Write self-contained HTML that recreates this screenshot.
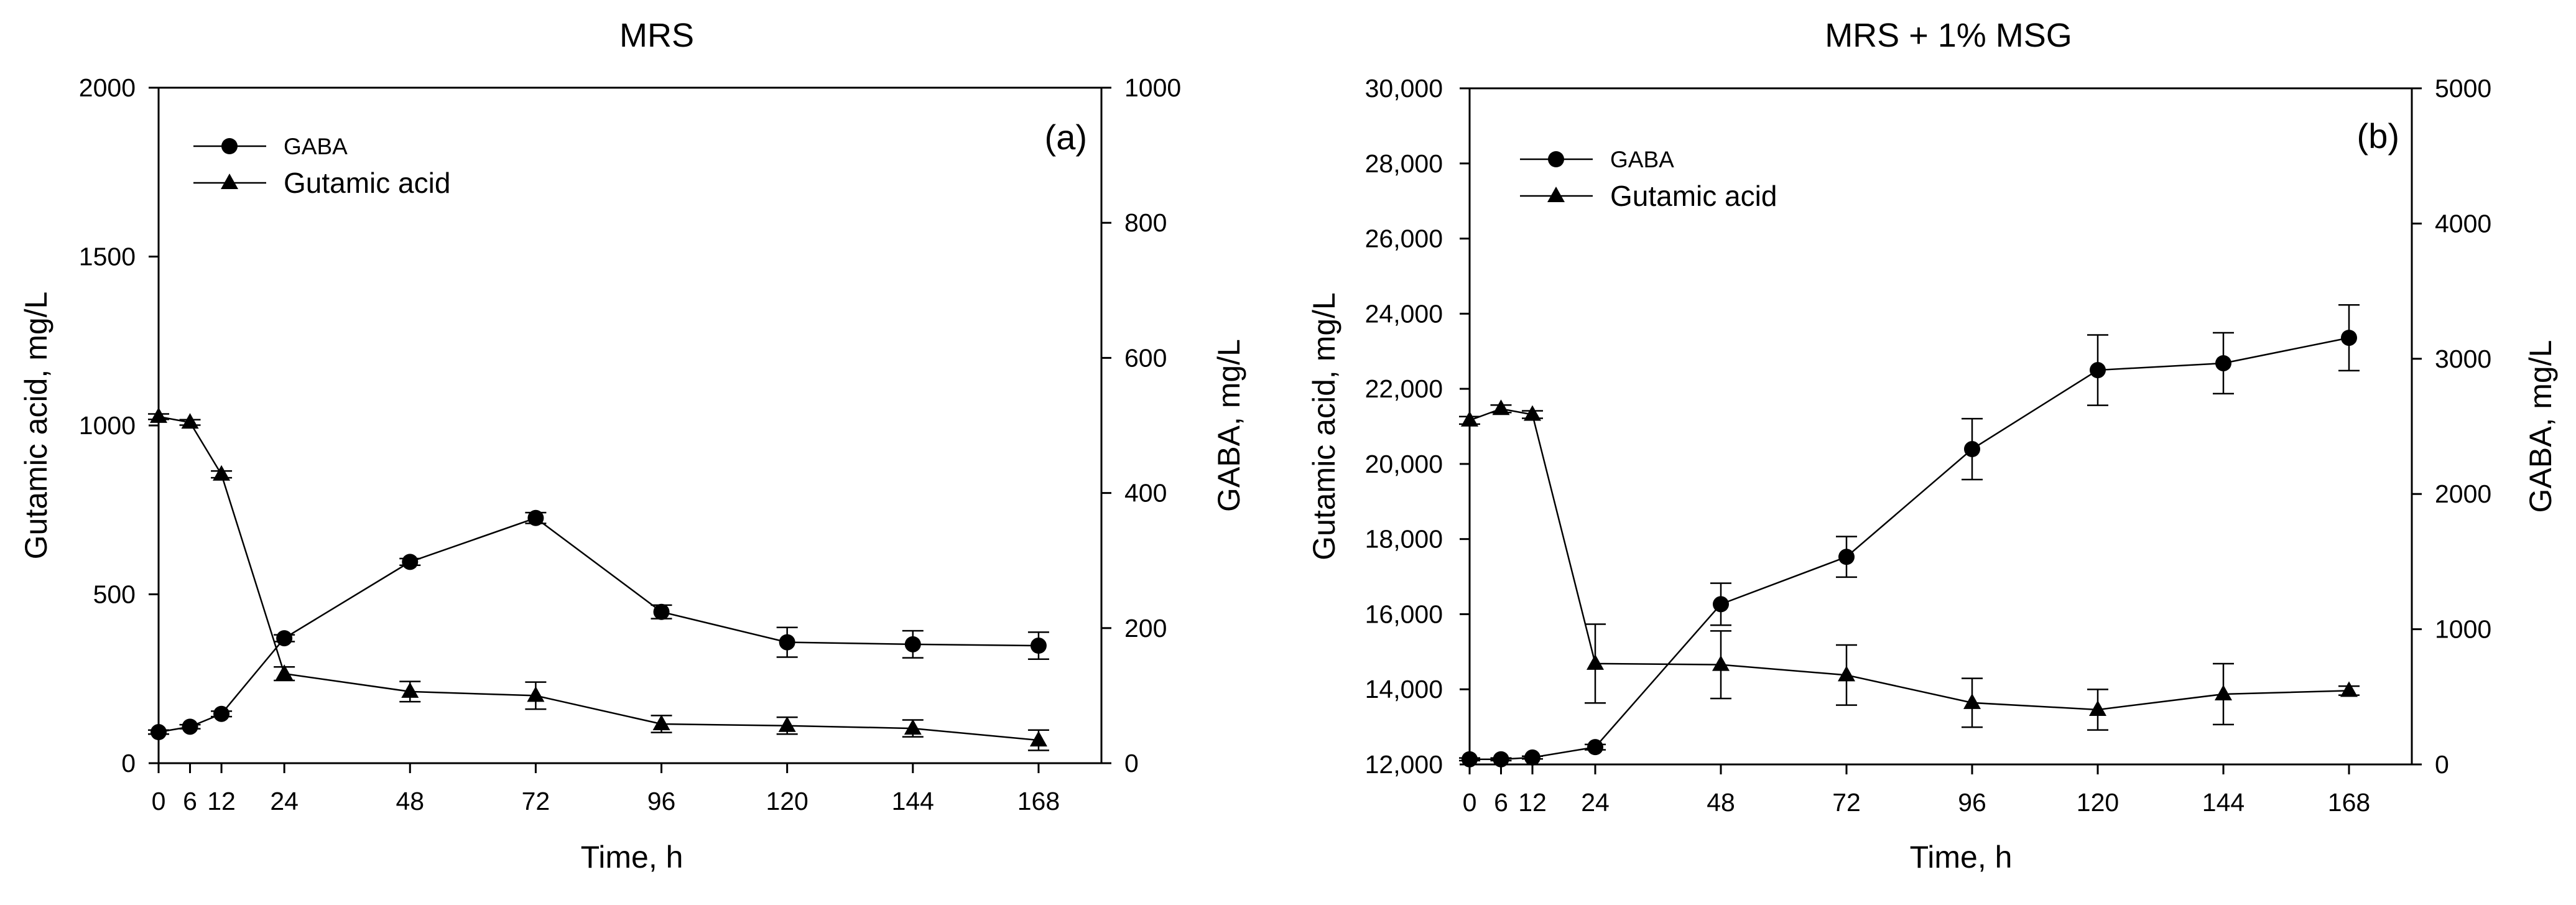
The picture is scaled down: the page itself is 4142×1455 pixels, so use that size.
<!DOCTYPE html>
<html><head><meta charset="utf-8">
<style>
html,body{margin:0;padding:0;background:#fff;}
svg{display:block;font-family:"Liberation Sans",Arial,sans-serif;}
</style></head>
<body>
<svg id="fig" width="4142" height="1455" viewBox="0 0 4142 1455" xmlns="http://www.w3.org/2000/svg"></svg>
<script>
// ---- data ----
const times = [0, 6, 12, 24, 48, 72, 96, 120, 144, 168];
const xTicks = [0, 6, 12, 24, 48, 72, 96, 120, 144, 168];
// Panel (a) MRS
const aGlu = [1026, 1009, 855, 265, 212, 200, 116, 111, 103, 68];
const aGluErr = [8, 8, 10, 20, 30, 40, 25, 25, 25, 30];
const aGaba = [46, 54, 73, 185, 298, 363, 224, 179, 176, 174];
const aGabaErr = [3, 3, 4, 5, 5, 8, 10, 22, 20, 20];
const aLeftTicks = [0, 500, 1000, 1500, 2000];
const aRightTicks = [0, 200, 400, 600, 800, 1000];
// Panel (b) MRS + 1% MSG
const bGlu = [21161, 21468, 21315, 14685, 14655, 14379, 13642, 13458, 13872, 13964];
const bGluErr = [100, 100, 100, 1050, 900, 800, 650, 540, 810, 120];
const bGaba = [38, 38, 51, 128, 1185, 1535, 2332, 2916, 2967, 3155];
const bGabaErr = [10, 10, 10, 20, 155, 150, 225, 260, 225, 243];
const bLeftTicks = [12000, 14000, 16000, 18000, 20000, 22000, 24000, 26000, 28000, 30000];
const bRightTicks = [0, 1000, 2000, 3000, 4000, 5000];

const NS = "http://www.w3.org/2000/svg";
const svg = document.getElementById('fig');
function mk(tag, attrs, parent, text){
  const e = document.createElementNS(NS, tag);
  for (const k in attrs) e.setAttribute(k, attrs[k]);
  if (text !== undefined) e.textContent = text;
  (parent || svg).appendChild(e);
  return e;
}
function fmt(v, comma){ return comma ? v.toLocaleString('en-US') : String(v); }

function panel(cfg){
  const g = mk('g', {});
  
  
  const L = cfg.left, R = cfg.right, T = cfg.top, B = cfg.bottom;
  const xs = t => L + (t - 0) / 180 * (R - L);
  const yl = v => B - (v - cfg.lmin) / (cfg.lmax - cfg.lmin) * (B - T);
  const yr = v => B - (v - cfg.rmin) / (cfg.rmax - cfg.rmin) * (B - T);
  // frame
  const frame = mk('rect', {x:L, y:T, width:R-L, height:B-T, fill:'none', stroke:'#000', 'stroke-width':3}, g);
  
  
  // x ticks
  xTicks.forEach(t => {
    const x = xs(t);
    mk('line', {x1:x, y1:B, x2:x, y2:B+16, stroke:'#000', 'stroke-width':3}, g);
    const lb = mk('text', {x:x, y:B+75, 'font-size':41, 'text-anchor':'middle'}, g, String(t));
    
    
  });
  // left ticks
  cfg.lticks.forEach(v => {
    const y = yl(v);
    mk('line', {x1:L-16, y1:y, x2:L, y2:y, stroke:'#000', 'stroke-width':3}, g);
    const lb = mk('text', {x:cfg.lLabelX, y:y+14, 'font-size':41, 'text-anchor':'end'}, g, fmt(v, cfg.comma));
    
    
  });
  // right ticks
  cfg.rticks.forEach(v => {
    const y = yr(v);
    mk('line', {x1:R, y1:y, x2:R+16, y2:y, stroke:'#000', 'stroke-width':3}, g);
    const lb = mk('text', {x:R+37, y:y+14, 'font-size':41, 'text-anchor':'start'}, g, String(v));
    
    
  });
  // titles
  const tt = mk('text', {x:cfg.titleX, y:75, 'font-size':54, 'text-anchor':'middle'}, g, cfg.title);
  
  
  const xt = mk('text', {x:cfg.xTitleX, y:1395, 'font-size':50, 'text-anchor':'middle'}, g, 'Time, h');
  
  
  const ylt = mk('text', {x:0, y:0, 'font-size':50, 'text-anchor':'middle', transform:`translate(${cfg.lTitleX},${(T+B)/2}) rotate(-90)`}, g, 'Gutamic acid, mg/L');
  
  
  const yrt = mk('text', {x:0, y:0, 'font-size':50, 'text-anchor':'middle', transform:`translate(${cfg.rTitleX},${(T+B)/2}) rotate(-90)`}, g, 'GABA, mg/L');
  
  
  const pl = mk('text', {x:cfg.tagX, y:cfg.tagY, 'font-size':56, 'text-anchor':'end'}, g, cfg.tag);
  
  

  function series(vals, errs, yf, shape, nm){
    const sg = mk('g', {}, g);
    
    
    const pts = times.map((t,i) => xs(t) + ',' + yf(vals[i])).join(' ');
    mk('polyline', {points:pts, fill:'none', stroke:'#000', 'stroke-width':2.5}, sg);
    times.forEach((t,i) => {
      const x = xs(t), y = yf(vals[i]);
      const y1 = yf(vals[i] + errs[i]), y2 = yf(vals[i] - errs[i]);
      const eb = mk('path', {d:`M${x-17},${y1}H${x+17}M${x},${y1}V${y2}M${x-17},${y2}H${x+17}`, stroke:'#000', 'stroke-width':2.5, fill:'none'}, sg);
      
      
      let m;
      if (shape === 'circle') m = mk('circle', {cx:x, cy:y, r:13, fill:'#000'}, sg);
      else m = mk('path', {d:`M${x},${y-15}L${x+14},${y+10}L${x-14},${y+10}Z`, fill:'#000'}, sg);
      
      
    });
  }
  series(cfg.glu, cfg.gluErr, yl, 'tri', 'glutamic-acid-series');
  series(cfg.gaba, cfg.gabaErr, yr, 'circle', 'gaba-series');

  // legend
  const lg = mk('g', {}, g);
  
  
  const lx1 = cfg.legX, lx2 = cfg.legX + 117, mx = cfg.legX + 58;
  mk('line', {x1:lx1, y1:cfg.legY, x2:lx2, y2:cfg.legY, stroke:'#000', 'stroke-width':2.5}, lg);
  mk('circle', {cx:mx, cy:cfg.legY, r:13, fill:'#000'}, lg);
  const e1 = mk('text', {x:lx2+28, y:cfg.legY+13, 'font-size':37}, lg, 'GABA');
  
  
  const ly2 = cfg.legY + 59;
  mk('line', {x1:lx1, y1:ly2, x2:lx2, y2:ly2, stroke:'#000', 'stroke-width':2.5}, lg);
  mk('path', {d:`M${mx},${ly2-15}L${mx+14},${ly2+10}L${mx-14},${ly2+10}Z`, fill:'#000'}, lg);
  const e2 = mk('text', {x:lx2+28, y:ly2+16, 'font-size':46}, lg, 'Gutamic acid');
  
  
}

panel({name:'panel-a-mrs', left:255, right:1771, top:141, bottom:1227,
  lmin:0, lmax:2000, rmin:0, rmax:1000, lticks:aLeftTicks, rticks:aRightTicks, comma:false,
  lLabelX:218, title:'MRS', titleX:1056, xTitleX:1016, lTitleX:75, rTitleX:1993,
  tag:'(a)', tagX:1748, tagY:240, legX:311, legY:235,
  glu:aGlu, gluErr:aGluErr, gaba:aGaba, gabaErr:aGabaErr});
panel({name:'panel-b-mrs-msg', left:2363, right:3878, top:142, bottom:1229,
  lmin:12000, lmax:30000, rmin:0, rmax:5000, lticks:bLeftTicks, rticks:bRightTicks, comma:true,
  lLabelX:2320, title:'MRS + 1% MSG', titleX:3133, xTitleX:3153, lTitleX:2146, rTitleX:4102,
  tag:'(b)', tagX:3858, tagY:238, legX:2444, legY:256,
  glu:bGlu, gluErr:bGluErr, gaba:bGaba, gabaErr:bGabaErr});
</script>
</body></html>
